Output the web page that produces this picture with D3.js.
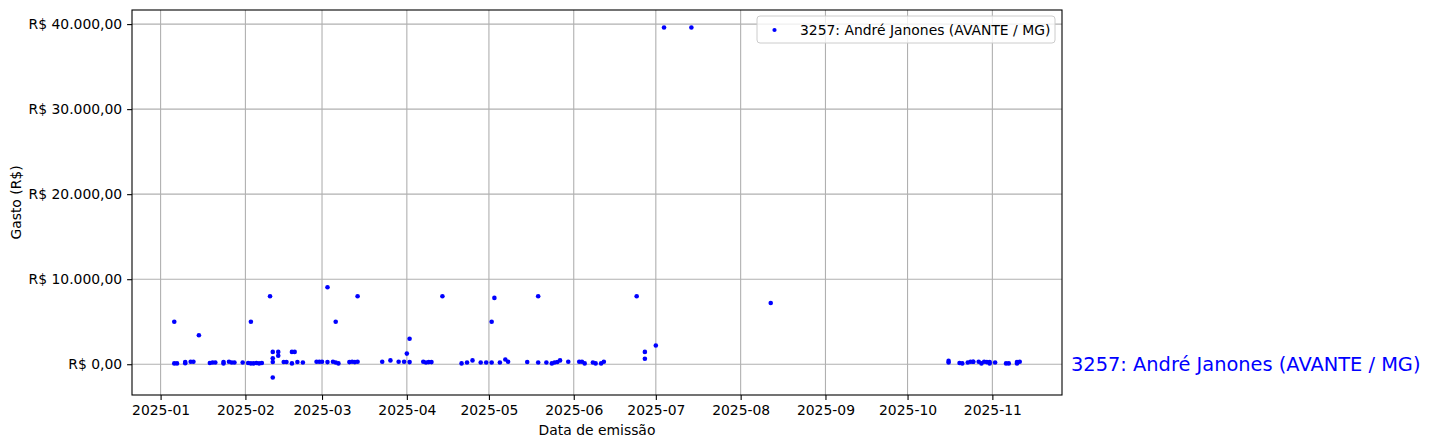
<!DOCTYPE html>
<html><head><meta charset="utf-8">
<script src="https://cdn.jsdelivr.net/npm/d3@7"></script>
<style>body{margin:0;background:#fff}svg{display:block;font-family:"DejaVu Sans",sans-serif}</style>
</head><body><svg id="c" width="1431" height="448"></svg>
<script>
const seriesName = "3257: André Janones (AVANTE / MG)";
const dates = [
"2025-01-06","2025-01-06","2025-01-07","2025-01-10","2025-01-10","2025-01-12","2025-01-13","2025-01-15",
"2025-01-19","2025-01-20","2025-01-21","2025-01-24","2025-01-24","2025-01-26","2025-01-27","2025-01-28","2025-01-31",
"2025-02-03","2025-02-02","2025-02-03","2025-02-04","2025-02-05","2025-02-06","2025-02-07",
"2025-02-10","2025-02-11","2025-02-11","2025-02-11","2025-02-11","2025-02-13","2025-02-13","2025-02-15","2025-02-16",
"2025-02-18","2025-02-19","2025-02-18","2025-02-20","2025-02-22","2025-02-27","2025-02-28",
"2025-03-01","2025-03-03","2025-03-03","2025-03-05","2025-03-06","2025-03-06","2025-03-07","2025-03-11","2025-03-12",
"2025-03-13","2025-03-14","2025-03-14","2025-03-23","2025-03-26","2025-03-29","2025-03-31",
"2025-04-02","2025-04-01","2025-04-02","2025-04-07","2025-04-08","2025-04-09","2025-04-10","2025-04-14",
"2025-04-21","2025-04-23","2025-04-25","2025-04-28","2025-04-30",
"2025-05-02","2025-05-02","2025-05-03","2025-05-05","2025-05-07","2025-05-08","2025-05-15","2025-05-19","2025-05-19",
"2025-05-22","2025-05-24","2025-05-25","2025-05-26","2025-05-27","2025-05-30",
"2025-06-03","2025-06-04","2025-06-05","2025-06-08","2025-06-09","2025-06-11","2025-06-12","2025-06-24","2025-06-27","2025-06-27",
"2025-07-01","2025-07-04","2025-07-14","2025-08-12",
"2025-10-16","2025-10-16","2025-10-20","2025-10-21","2025-10-23","2025-10-24","2025-10-25","2025-10-25","2025-10-27",
"2025-10-28","2025-10-29","2025-10-30","2025-10-31","2025-10-31","2025-11-02","2025-11-06","2025-11-07",
"2025-11-10","2025-11-10","2025-11-11"
];
const values = [
5000,100,100,270,120,300,300,3400,
150,200,200,270,100,300,200,200,200,
5000,150,100,100,150,100,150,
8000,1450,700,270,-1560,1450,1000,270,270,
1450,1450,100,270,200,300,300,
300,9050,250,300,5000,200,100,250,300,
250,300,8000,300,450,300,300,
3000,1250,250,300,200,250,250,8000,
100,200,450,200,200,
5000,200,7800,200,550,300,270,8000,200,
200,100,200,270,450,300,
300,300,100,200,100,100,300,8000,1450,650,
2200,39600,39600,7200,
200,390,150,100,200,300,300,300,300,
100,300,250,250,100,200,100,100,
250,100,300
];
const yTicks = [0,10000,20000,30000,40000];
const xTickLabels = ["2025-01","2025-02","2025-03","2025-04","2025-05","2025-06","2025-07","2025-08","2025-09","2025-10","2025-11"];

const parse = d3.timeParse("%Y-%m-%d");
const data = dates.map((d,i)=>({date:parse(d), value:values[i]}));

const svg = d3.select("#c");
const L=132, R=1062, T=10, B=395;
const pad = (ext)=>{const r=ext[1]-ext[0];return [ext[0]-0.05*r, ext[1]+0.05*r];};
const xe = d3.extent(data,d=>+d.date), ye = d3.extent(data,d=>d.value);
const x = d3.scaleTime().domain(pad(xe).map(v=>new Date(v))).range([L,R]);
const y = d3.scaleLinear().domain(pad(ye)).range([B,T]);

const loc = d3.formatLocale({decimal:",", thousands:".", grouping:[3], currency:["R$ ",""]});
const yf = loc.format("$,.2f");
const xTickDates = xTickLabels.map(s=>d3.timeParse("%Y-%m")(s));

// grid
const g = svg.append("g").attr("stroke","#b0b0b0").attr("stroke-width",1.1);
xTickDates.forEach(d=>g.append("line").attr("x1",x(d)).attr("x2",x(d)).attr("y1",T).attr("y2",B));
yTicks.forEach(v=>g.append("line").attr("x1",L).attr("x2",R).attr("y1",y(v)).attr("y2",y(v)));

// points
svg.append("g").selectAll("circle").data(data).join("circle")
  .attr("cx",d=>x(d.date)).attr("cy",d=>y(d.value)).attr("r",2.3).attr("fill","#0000ff");

// axes
const xAxis = d3.axisBottom(x).tickValues(xTickDates).tickFormat((d,i)=>xTickLabels[i]).tickSize(4.9).tickPadding(4.9);
const yAxis = d3.axisLeft(y).tickValues(yTicks).tickFormat(yf).tickSize(4.9).tickPadding(4.9);
const ax = svg.append("g").attr("transform",`translate(0,${B})`).call(xAxis);
const ay = svg.append("g").attr("transform",`translate(${L},0)`).call(yAxis);
[ax,ay].forEach(a=>{
  a.select(".domain").remove();
  a.selectAll(".tick line").attr("stroke","#000").attr("stroke-width",1.1);
  a.selectAll(".tick text").attr("fill","#000").style("font-size","13.9px").style("font-family","DejaVu Sans");
});
svg.append("rect").attr("x",L).attr("y",T).attr("width",R-L).attr("height",B-T)
  .attr("fill","none").attr("stroke","#000").attr("stroke-width",1.1);

// labels
svg.append("text").attr("x",(L+R)/2).attr("y",435).attr("text-anchor","middle")
  .style("font-size","13.9px").text("Data de emissão");
svg.append("text").attr("transform",`translate(21,${(T+B)/2}) rotate(-90)`).attr("text-anchor","middle")
  .style("font-size","13.9px").text("Gasto (R$)");

// annotation
svg.append("text").attr("x",1071).attr("y",y(0)).attr("dy","0.35em").attr("fill","#0000ff")
  .style("font-size","19.4px").text(seriesName);

// legend
const lg = svg.append("g");
lg.append("rect").attr("x",757).attr("y",16).attr("width",298).attr("height",27).attr("rx",3)
  .attr("fill","#fff").attr("fill-opacity",0.8).attr("stroke","#ccc").attr("stroke-width",1);
lg.append("circle").attr("cx",774.5).attr("cy",30).attr("r",2.1).attr("fill","#0000ff");
lg.append("text").attr("x",800).attr("y",30).attr("dy","0.35em").style("font-size","13.9px").text(seriesName);
</script></body></html>
